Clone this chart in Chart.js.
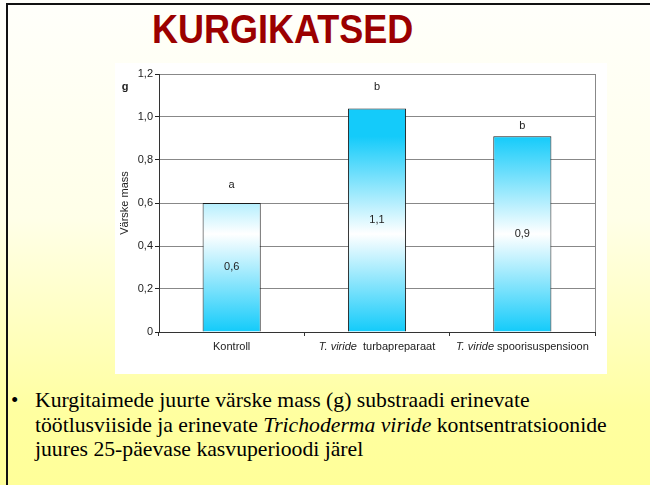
<!DOCTYPE html>
<html>
<head>
<meta charset="utf-8">
<script src="https://cdn.jsdelivr.net/npm/chart.js@4.4.0/dist/chart.umd.min.js"></script>
<style>
  html, body { margin: 0; padding: 0; }
  body {
    width: 650px; height: 485px; overflow: hidden; position: relative;
    background: linear-gradient(to bottom, #fffffb 0%, #ffffe8 45%, #ffffa0 85%, #ffff99 100%);
  }
  #frame { position: absolute; left: 6px; top: 3px; width: 700px; height: 600px;
    border-top: 2px solid #111; border-left: 2px solid #111; }
  #title { position: absolute; left: 152px; top: 9px; font: bold 40px "Liberation Sans", Arial, sans-serif;
    line-height: 40px; color: #9b0000; transform: scaleX(0.9); transform-origin: left top; white-space: nowrap; }
  #box { position: absolute; left: 115px; top: 63px; width: 492px; height: 311px; background: #fff; }
  #caption { position: absolute; left: 35px; top: 388px; font: 21.7px "Liberation Serif", "Times New Roman", serif;
    line-height: 24.5px; color: #000; white-space: nowrap; }
  #bullet { position: absolute; left: 11px; top: 388px; font: 21px "Liberation Serif", serif; line-height: 24.5px; }
</style>
</head>
<body>
<div id="frame"></div>
<div id="title">KURGIKATSED</div>
<div id="box"><canvas id="myChart" width="492" height="311"></canvas></div>
<div id="bullet">•</div>
<div id="caption">Kurgitaimede juurte värske mass (g) substraadi erinevate<br>töötlusviiside ja erinevate <i>Trichoderma viride</i> kontsentratsioonide<br>juures 25-päevase kasvuperioodi järel</div>
<script>
const treatments = ["Kontroll", "T. viride turbapreparaat", "T. viride spoorisuspensioon"];
const freshMass = [0.6, 1.04, 0.91];
const massLabels = ["0,6", "1,1", "0,9"];
const groupLetters = ["a", "b", "b"];
const yTicks = [0, 0.2, 0.4, 0.6, 0.8, 1.0, 1.2];

const cyan = "#14cbfa";
const txt = "#222";
const sans = '"Liberation Sans", Arial, sans-serif';

// cyan - white - cyan fill for each bar, built once the bars have their places
const barGradient = {
  id: "barGradient",
  beforeDatasetsDraw(chart) {
    const ctx = chart.ctx;
    chart.getDatasetMeta(0).data.forEach(bar => {
      const g = ctx.createLinearGradient(0, bar.y, 0, bar.base);
      g.addColorStop(0, cyan);
      g.addColorStop(0.5, "#ffffff");
      g.addColorStop(1, cyan);
      bar.options.backgroundColor = g;
    });
  }
};

const extras = {
  id: "extras",
  afterDatasetsDraw(chart, args, opts) {
    const ctx = chart.ctx;
    const x = chart.scales.x, y = chart.scales.y;
    const area = chart.chartArea;
    ctx.save();
    // right border of plot
    ctx.strokeStyle = "#888";
    ctx.lineWidth = 1;
    ctx.beginPath();
    ctx.moveTo(Math.round(area.right) + 0.5, area.top);
    ctx.lineTo(Math.round(area.right) + 0.5, area.bottom);
    ctx.stroke();

    ctx.fillStyle = txt;
    ctx.textAlign = "center";
    ctx.textBaseline = "middle";
    ctx.font = "11px " + sans;
    const meta = chart.getDatasetMeta(0);
    meta.data.forEach((bar, i) => {
      ctx.fillText(massLabels[i], bar.x, (bar.y + bar.base) / 2);
      ctx.fillText(groupLetters[i], bar.x, y.getPixelForValue(opts.letterLevel[i]));
    });

    // category labels, "T. viride" in italics
    treatments.forEach((name, i) => {
      const cx = x.getPixelForValue(i);
      const ly = area.bottom + 15;
      if (name.startsWith("T. viride")) {
        const head = "T. viride";
        const rest = (i === 1 ? "  " : " ") + name.slice(head.length + 1);
        ctx.font = "italic 11px " + sans;
        const w1 = ctx.measureText(head).width;
        ctx.font = "11px " + sans;
        const w2 = ctx.measureText(rest).width;
        let sx = cx - (w1 + w2) / 2;
        ctx.textAlign = "left";
        ctx.font = "italic 11px " + sans;
        ctx.fillText(head, sx, ly);
        ctx.font = "11px " + sans;
        ctx.fillText(rest, sx + w1, ly);
      } else {
        ctx.textAlign = "center";
        ctx.font = "11px " + sans;
        ctx.fillText(name, cx, ly);
      }
    });

    // axis title and unit
    ctx.textAlign = "center";
    ctx.font = "bold 11px " + sans;
    ctx.fillText("g", 10, 24);
    ctx.font = "11px " + sans;
    ctx.translate(10, (area.top + area.bottom) / 2);
    ctx.rotate(-Math.PI / 2);
    ctx.fillText("Värske mass", 0, 0);
    ctx.restore();
  }
};

new Chart("myChart", {
  type: "bar",
  data: {
    labels: treatments,
    datasets: [{
      data: freshMass,
      backgroundColor: cyan,
      borderColor: "#1a1a1a",
      borderWidth: 1,
      categoryPercentage: 1,
      barPercentage: 0.4
    }]
  },
  options: {
    responsive: false,
    animation: false,
    layout: { padding: { top: 11, right: 12, left: 0, bottom: 0 } },
    plugins: {
      legend: { display: false },
      tooltip: { enabled: false },
      extras: { letterLevel: [0.684, 1.14, 0.958] }
    },
    scales: {
      x: {
        grid: { offset: true, drawOnChartArea: false, tickLength: 4, tickColor: "#333" },
        border: { color: "#333", width: 1 },
        ticks: { color: "transparent", font: { size: 11 } },
        afterFit(s) { s.height = 42; }
      },
      y: {
        min: 0,
        max: 1.2,
        afterBuildTicks(s) { s.ticks = yTicks.map(v => ({ value: v })); },
        grid: { color: "#888", tickLength: 4, tickColor: "#222" },
        border: { color: "#333", width: 1 },
        ticks: {
          padding: 2,
          color: txt,
          font: { family: sans, size: 11 },
          callback: v => v === 0 ? "0" : v.toFixed(1).replace(".", ",")
        },
        afterFit(s) { s.width = 44; }
      }
    }
  },
  plugins: [barGradient, extras]
});
</script>
</body>
</html>
